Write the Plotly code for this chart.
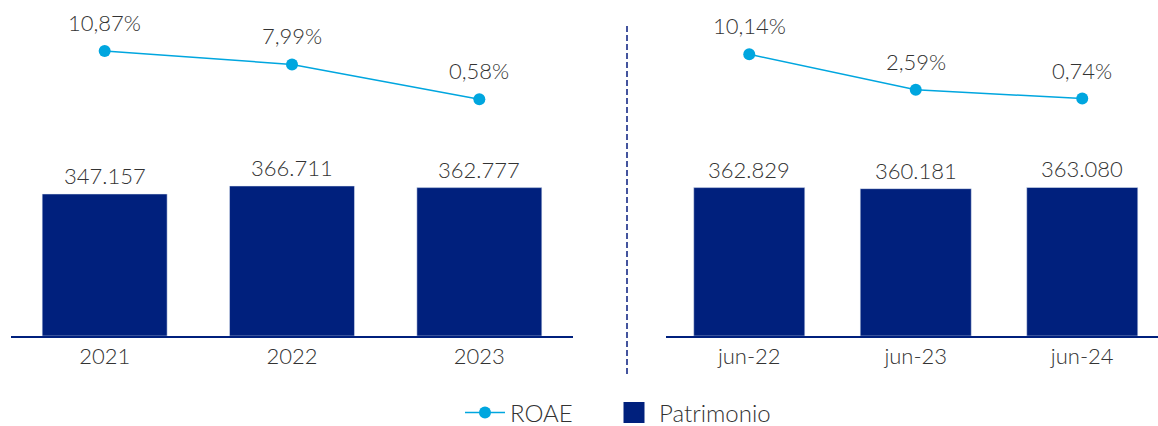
import plotly.graph_objects as go

# ---- data ----
years = ["2021", "2022", "2023"]
patrimonio_years = [347157, 366711, 362777]
roae_years = [10.87, 7.99, 0.58]

junes = ["jun-22", "jun-23", "jun-24"]
patrimonio_jun = [362829, 360181, 363080]
roae_jun = [10.14, 2.59, 0.74]

NAVY = "#00207D"
CYAN = "#00A6DF"
TXT = "#333333"
FONT = "Lato"
FS = 22
W, H = 1158, 426


def fmt_thousands(v):
    return f"{v:,}".replace(",", ".")


def fmt_pct(v):
    return f"{v:.2f}".replace(".", ",") + "%"


fig = go.Figure()

# left panel
fig.add_trace(go.Bar(x=years, y=patrimonio_years, marker_color=NAVY, name="Patrimonio",
                     xaxis="x", yaxis="y", showlegend=False))
fig.add_trace(go.Scatter(x=years, y=roae_years, mode="lines+markers", name="ROAE",
                         line=dict(color=CYAN, width=1.5), marker=dict(size=12, color=CYAN),
                         xaxis="x", yaxis="y2", showlegend=True, legend="legend"))
# right panel
fig.add_trace(go.Bar(x=junes, y=patrimonio_jun, marker_color=NAVY, name="Patrimonio",
                     xaxis="x2", yaxis="y3", showlegend=False))
fig.add_trace(go.Scatter(x=junes, y=roae_jun, mode="lines+markers", name="ROAE",
                         line=dict(color=CYAN, width=1.5), marker=dict(size=12, color=CYAN),
                         xaxis="x2", yaxis="y4", showlegend=False))
# legend entry for Patrimonio (square)
fig.add_trace(go.Scatter(x=[None], y=[None], mode="markers", name="Patrimonio",
                         marker=dict(symbol="square", size=16, color=NAVY,
                                     line=dict(color=NAVY, width=5)),
                         xaxis="x", yaxis="y", showlegend=True, legend="legend2"))

tfont = dict(family=FONT, size=FS, color=TXT, weight=300)
lfont = dict(family=FONT, size=24, color=TXT, weight=300)
annotations = []
for cats, vals, xr, yr in [(years, patrimonio_years, "x", "y"), (junes, patrimonio_jun, "x2", "y3")]:
    for i, v in enumerate(vals):
        annotations.append(dict(x=i, y=v, xref=xr, yref=yr, text=fmt_thousands(v),
                                showarrow=False, yanchor="bottom", yshift=3, font=tfont))
for cats, vals, xr, yr in [(years, roae_years, "x", "y2"), (junes, roae_jun, "x2", "y4")]:
    for i, v in enumerate(vals):
        annotations.append(dict(x=i, y=v, xref=xr, yref=yr, text=fmt_pct(v),
                                showarrow=False, yanchor="bottom", yshift=13, font=tfont))

bar_range = [0, 336 * 366711 / 150]
line_range = [-234 / 4.7, 102 / 4.7]

common_x = dict(type="category", showgrid=False, zeroline=False, showline=True, linecolor=NAVY,
                linewidth=1.5, ticks="", tickfont=tfont, fixedrange=True, automargin=False)
hidden_y = dict(visible=False, showgrid=False, zeroline=False, fixedrange=True)
legend_common = dict(orientation="h", xanchor="left", y=-77 / 336, yanchor="middle",
                     font=lfont, itemwidth=40, bgcolor="rgba(0,0,0,0)")

fig.update_layout(
    width=W, height=H,
    margin=dict(l=0, r=0, t=0, b=90, autoexpand=False),
    paper_bgcolor="white", plot_bgcolor="white",
    bargap=0.333,
    font=tfont,
    xaxis=dict(domain=[11 / W, 573 / W], range=[-0.5, 2.5], anchor="y", **common_x),
    xaxis2=dict(domain=[666 / W, 1.0], range=[-0.5, 2.455], anchor="y3", **common_x),
    yaxis=dict(range=bar_range, anchor="x", **hidden_y),
    yaxis2=dict(range=line_range, overlaying="y", anchor="x", **hidden_y),
    yaxis3=dict(range=bar_range, anchor="x2", **hidden_y),
    yaxis4=dict(range=line_range, overlaying="y3", anchor="x2", **hidden_y),
    legend=dict(x=460 / W, **legend_common),
    legend2=dict(x=609 / W, **legend_common),
    annotations=annotations,
    shapes=[dict(type="line", xref="paper", yref="paper",
                 x0=627 / W, x1=627 / W, y0=(336 - 374) / 336, y1=(336 - 23) / 336,
                 line=dict(color="#44549E", width=2, dash="6px,3px"))],
    showlegend=True,
)

fig.write_html("out.html", config={"displayModeBar": False},
               post_script="document.body.style.margin='0';document.body.style.padding='0';")
